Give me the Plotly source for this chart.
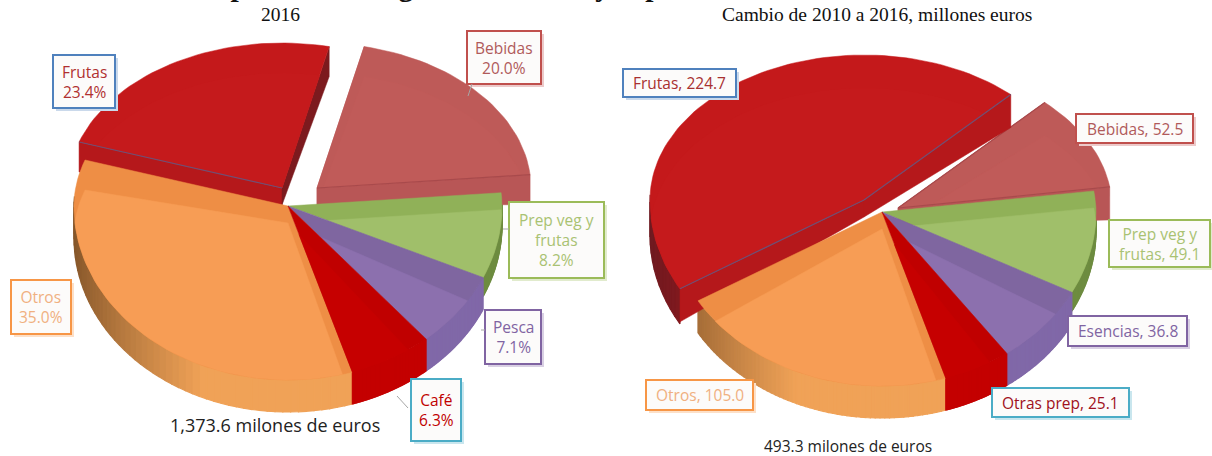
import math
import plotly.graph_objects as go

# ---------- data ----------
labels_2016 = ["Frutas", "Bebidas", "Prep veg y frutas", "Pesca", "Café", "Otros"]
values_2016 = [23.4, 20.0, 8.2, 7.1, 6.3, 35.0]
labels_change = ["Frutas", "Bebidas", "Prep veg y frutas", "Esencias", "Otras prep", "Otros"]
values_change = [224.7, 52.5, 49.1, 36.8, 25.1, 105.0]
title_text = "Exportaciones agroindustriales y exportaciones"
subtitle_left = "2016"
subtitle_right = "Cambio de 2010 a 2016, millones euros"
total_left = "1,373.6 milones de euros"
total_right = "493.3 milones de euros"

# ---------- style ----------
FACE = ["#C4191B", "#BE5A58", "#90B158", "#7F66A0", "#C00000", "#EE8E45"]
INNER = ["#C51A1C", "#C05B59", "#A0BF6A", "#8C70AE", "#C60000", "#F79D55"]
WALL_A = ["#6E1A20", "#A84C4C", "#5E7A35", "#6F5A92", "#A80000", "#85562A"]
WALL_B = ["#A8161A", "#B85858", "#6E8C40", "#8068A8", "#C40000", "#F0A257"]
RADIAL = ["#B5181B", "#B85656", None, None, None, None]
RADIAL_DARK = ["#7C1A1E", "#B85656", None, None, None, None]
EDGE = ["#6F4F74", "#A84A4C", None, None, None, None]

RX, RY_BACK, RY_FRONT = 214, 145, 174
APEX_DEPTH = 17


def pt(c, a):
    r = math.radians(a)
    s = math.sin(r)
    return c[0] + RX * math.cos(r), c[1] - (RY_BACK if s > 0 else RY_FRONT) * s


def clip(subject, conv):
    area = sum(conv[i][0] * conv[(i + 1) % len(conv)][1] - conv[(i + 1) % len(conv)][0] * conv[i][1] for i in range(len(conv)))
    sign = 1 if area > 0 else -1
    out = subject
    for i in range(len(conv)):
        a, b = conv[i], conv[(i + 1) % len(conv)]
        side = lambda p: sign * ((b[0] - a[0]) * (p[1] - a[1]) - (b[1] - a[1]) * (p[0] - a[0]))
        res = []
        for j in range(len(out)):
            p, q = out[j], out[(j + 1) % len(out)]
            sp, sq = side(p), side(q)
            if sp >= 0:
                res.append(p)
            if sp * sq < 0:
                t = sp / (sp - sq)
                res.append((p[0] + t * (q[0] - p[0]), p[1] + t * (q[1] - p[1])))
        out = res
        if not out:
            break
    return out


def mix(c1, c2, t):
    a = [int(c1[i:i + 2], 16) for i in (1, 3, 5)]
    b = [int(c2[i:i + 2], 16) for i in (1, 3, 5)]
    return "#%02x%02x%02x" % tuple(round(a[k] + (b[k] - a[k]) * t) for k in range(3))


fig = go.Figure()


def poly(pts, color, name=None, width=0.5):
    xs = [p[0] for p in pts] + [pts[0][0]]
    ys = [p[1] for p in pts] + [pts[0][1]]
    fig.add_trace(go.Scatter(x=xs, y=ys, mode="lines", fill="toself", fillcolor=color,
                             line=dict(color=color, width=width),
                             hoverinfo="text" if name else "skip", text=name, showlegend=False))


def dark_side(a):
    return 60 < a % 360 < 110


def pie(labels, values, center, start, offsets, depths, order):
    total = sum(values)
    angles = []
    a = start
    for v in values:
        angles.append((a, a - v / total * 360))
        a = angles[-1][1]
    cs = [(center[0] + offsets[i][0], center[1] + offsets[i][1]) for i in range(len(values))]
    # outer walls first
    for i in order:
        a0, a1 = angles[i]
        c = cs[i]
        n = 60
        arc = [a0 + (a1 - a0) * k / n for k in range(n + 1)]
        for k in range(n):
            mid = math.radians((arc[k] + arc[k + 1]) / 2)
            if math.sin(mid) > 0.05:
                continue
            p0, p1 = pt(c, arc[k]), pt(c, arc[k + 1])
            # left edge of the pie is darkest, shading reaches the body colour quickly
            t = min(1, max(0, (math.cos(mid) + 1) / 0.6)) ** 0.8
            d = depths[i] + 2
            poly([p0, p1, (p1[0], p1[1] + d), (p0[0], p0[1] + d)], mix(WALL_A[i], WALL_B[i], t), width=1.2)
    for i in order:
        a0, a1 = angles[i]
        c = cs[i]
        n = max(12, int((a0 - a1) / 2))
        arc = [pt(c, a0 + (a1 - a0) * k / n) for k in range(n + 1)]
        face = [c] + arc
        d = depths[i]
        if RADIAL[i]:
            ap2 = (c[0], c[1] + APEX_DEPTH)
            for e, ang in ((arc[0], a0), (arc[-1], a1)):
                poly([c, e, (e[0], e[1] + d), ap2], RADIAL_DARK[i] if dark_side(ang) else RADIAL[i])
        share = 100 * values[i] / total
        poly(face, FACE[i], name=f"{labels[i]}: {values[i]} ({share:.1f}%)")
        shifted = [(c[0], c[1] + APEX_DEPTH)] + [(p[0], p[1] + d) for p in arc]
        inner = clip(shifted, face)
        if inner:
            poly(inner, INNER[i])
        if EDGE[i]:
            for e, ang in ((arc[0], a0), (arc[-1], a1)):
                if not dark_side(ang):
                    fig.add_trace(go.Scatter(x=[e[0], c[0]], y=[e[1], c[1]], mode="lines",
                                             line=dict(color=EDGE[i], width=1.2),
                                             hoverinfo="skip", showlegend=False))


pie(labels_2016, values_2016, (288, 206), 161.5, [(-6, -18), (29, -18), (0, 0), (0, 0), (0, 0), (0, 0)],
    [30, 30, 17, 30, 30, 30], [0, 1, 5, 2, 3, 4])
pie(labels_change, values_change, (882, 212), 210.7, [(-18, -12), (16, -4), (0, 0), (0, 0), (0, 0), (0, 0)],
    [33, 33, 17, 30, 30, 30], [1, 0, 5, 2, 3, 4])

# ---------- label boxes ----------
BLUE, ROSE, GREEN, PURPLE, TEAL, ORANGE = "#4F81BD", "#C0504D", "#9BBB59", "#8064A2", "#4BACC6", "#F79646"
boxes = [
    (53, 55, 115, 108, BLUE, "Frutas<br>23.4%", "#B03030"),
    (467, 31, 541, 84, ROSE, "Bebidas<br>20.0%", "#B05A5A"),
    (509, 202, 604, 278, GREEN, "Prep veg y<br>frutas<br>8.2%", "#A9C272"),
    (485, 310, 541, 364, PURPLE, "Pesca<br>7.1%", "#8064A2"),
    (411, 379, 461, 441, TEAL, "Café<br>6.3%", "#C00000"),
    (11, 280, 71, 334, ORANGE, "Otros<br>35.0%", "#F0B080"),
    (623, 69, 736, 97, BLUE, "Frutas, 224.7", "#A83030"),
    (1076, 114, 1193, 143, ROSE, "Bebidas, 52.5", "#B05A5A"),
    (1109, 220, 1210, 267, GREEN, "Prep veg y<br>frutas, 49.1", "#A9C272"),
    (1068, 316, 1187, 346, PURPLE, "Esencias, 36.8", "#8064A2"),
    (992, 388, 1129, 417, TEAL, "Otras prep, 25.1", "#A01020"),
    (646, 380, 753, 410, ORANGE, "Otros, 105.0", "#F0B080"),
]
shapes = []
for x0, y0, x1, y1, col, _, _ in boxes:
    shapes.append(dict(type="rect", x0=x0 + 3, y0=y0 + 3, x1=x1 + 3, y1=y1 + 3, fillcolor=mix(col, "#ffffff", 0.7), line_width=0))
for x0, y0, x1, y1, col, _, _ in boxes:
    shapes.append(dict(type="rect", x0=x0, y0=y0, x1=x1, y1=y1, fillcolor="#FCFBFA", line=dict(color=col, width=2)))
for x0, y0, x1, y1 in [(472, 84, 468, 96), (481, 330, 485, 330), (397, 396, 408, 408), (503, 229, 509, 229)]:
    shapes.append(dict(type="line", x0=x0, y0=y0, x1=x1, y1=y1, line=dict(color="#A6A6A6", width=1)))

FONT = "Open Sans"
ann = []
for x0, y0, x1, y1, _, txt, col in boxes:
    ann.append(dict(x=(x0 + x1) / 2, y=(y0 + y1) / 2, text=txt, showarrow=False, font=dict(family=FONT, size=15.5, color=col)))
ann.append(dict(x=275, y=425, text=total_left, showarrow=False, font=dict(family=FONT, size=18, color="#222222")))
ann.append(dict(x=848, y=446, text=total_right, showarrow=False, font=dict(family=FONT, size=15.5, color="#222222")))
ann.append(dict(x=280, y=14, text=subtitle_left, showarrow=False, font=dict(family="Liberation Serif", size=19.5, color="#111111")))
ann.append(dict(x=877, y=14, text=subtitle_right, showarrow=False, font=dict(family="Liberation Serif", size=19.5, color="#111111")))
ann.append(dict(xref="paper", yref="paper", x=194 / 1212, y=1, xanchor="left", yanchor="bottom", yshift=-4,
                text="<b>" + title_text + "</b>", showarrow=False,
                font=dict(family="Liberation Serif", size=29.5, color="#111111")))

fig.update_layout(width=1212, height=456, margin=dict(l=0, r=0, t=0, b=0), paper_bgcolor="white", plot_bgcolor="white",
                  xaxis=dict(range=[0, 1212], visible=False, fixedrange=True),
                  yaxis=dict(range=[456, 0], visible=False, fixedrange=True),
                  shapes=shapes, annotations=ann, showlegend=False)
fig.write_html("out.html", config={"displayModeBar": False},
               post_script="document.body.style.margin='0';document.documentElement.style.overflow='hidden';")
